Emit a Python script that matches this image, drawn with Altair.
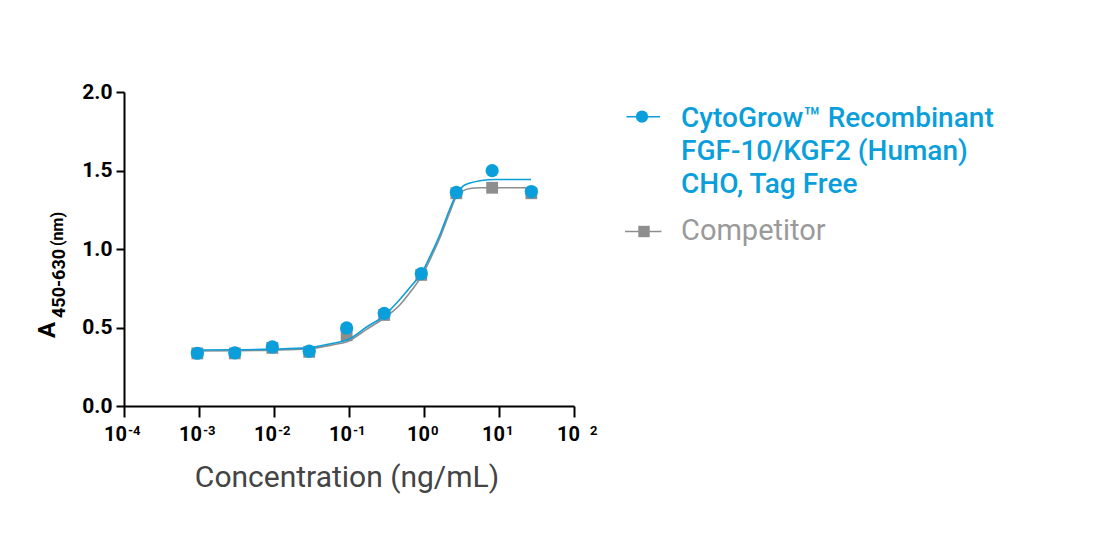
import altair as alt
import pandas as pd

# ---------------- data ----------------
conc = [0.00095, 0.003, 0.0095, 0.0295, 0.093, 0.295, 0.92, 2.7, 8.1, 27]
cyto_od = [0.336, 0.338, 0.376, 0.349, 0.497, 0.590, 0.843, 1.361, 1.499, 1.366]
comp_od = [0.335, 0.335, 0.370, 0.345, 0.450, 0.580, 0.835, 1.355, 1.390, 1.355]

cyto_fit_x = [0.00094, 0.00302, 0.0094, 0.0293, 0.0612, 0.094, 0.174, 0.284, 0.479,
              0.692, 0.94, 1.28, 1.69, 2.15, 2.75, 3.31, 4.10, 5.58, 8.85, 26.7]
cyto_fit_y = [0.357, 0.358, 0.362, 0.372, 0.400, 0.420, 0.505, 0.570, 0.680,
              0.770, 0.850, 0.980, 1.110, 1.240, 1.355, 1.400, 1.420, 1.435, 1.443, 1.443]
comp_fit_x = [0.00094, 0.00302, 0.0094, 0.0293, 0.0612, 0.094, 0.174, 0.284, 0.479,
              0.692, 0.94, 1.28, 1.69, 2.15, 2.75, 3.31, 4.10, 5.58, 8.85, 28.4]
comp_fit_y = [0.350, 0.352, 0.356, 0.365, 0.390, 0.410, 0.490, 0.555, 0.645,
              0.740, 0.830, 0.960, 1.090, 1.220, 1.340, 1.370, 1.385, 1.390, 1.390, 1.390]

x_ticks = [0.0001, 0.001, 0.01, 0.1, 1, 10, 100]
x_tick_base = ["10", "10", "10", "10", "10", "10", "10"]
x_tick_exp = ["-4", "-3", "-2", "-1", "0", "1", "2"]
y_ticks = [0, 0.5, 1.0, 1.5, 2.0]

series = ["CytoGrow™ Recombinant FGF-10/KGF2 (Human) CHO, Tag Free", "Competitor"]
legend_text = ["CytoGrow™ Recombinant\nFGF-10/KGF2 (Human)\nCHO, Tag Free", "Competitor"]

x_title = "Concentration (ng/mL)"
y_title_main = "A"
y_title_sub = "450-630"
y_title_unit = "(nm)"

BLUE = "#0A9FDB"
GRAY = "#8E8E8E"
GRAY_TXT = "#9A9A9A"
FONT = "Roboto"

# ---------------- tables ----------------
pts = pd.DataFrame({"conc": conc * 2,
                    "od": cyto_od + comp_od,
                    "series": [series[0]] * len(conc) + [series[1]] * len(conc)})
fit_c = pd.DataFrame({"conc": cyto_fit_x, "od": cyto_fit_y})
fit_g = pd.DataFrame({"conc": comp_fit_x, "od": comp_fit_y})
ticks = pd.DataFrame({"tick": x_ticks, "base": x_tick_base, "exp": x_tick_exp})

xs = alt.Scale(type="log", domain=[0.0001, 100], nice=False)
ys = alt.Scale(domain=[0, 2], nice=False, zero=False)

x_axis = alt.Axis(values=x_ticks, labels=False, title=None, grid=False, tickSize=11,
                  tickWidth=2, domainWidth=2, domainColor="black", tickColor="black")
y_axis = alt.Axis(values=y_ticks, format=".1f", title=None, grid=False, tickSize=8,
                  tickWidth=2, domainWidth=2, domainColor="black", tickColor="black",
                  labelFont=FONT, labelFontWeight="bold", labelFontSize=21,
                  labelColor="black", labelPadding=4)

X = alt.X("conc:Q", scale=xs, axis=x_axis)
Y = alt.Y("od:Q", scale=ys, axis=y_axis)

base = alt.Chart(pts)

line_g = alt.Chart(fit_g).mark_line(color=GRAY, strokeWidth=1.6, interpolate="monotone").encode(x=X, y=Y)
line_c = alt.Chart(fit_c).mark_line(color=BLUE, strokeWidth=1.6, interpolate="monotone").encode(x=X, y=Y)
sq = base.transform_filter(alt.datum.series == series[1]).mark_point(
    shape="square", filled=True, size=140, color=GRAY, opacity=1).encode(x=X, y=Y)
circ = base.transform_filter(alt.datum.series == series[0]).mark_point(
    shape="circle", filled=True, size=175, color=BLUE, opacity=1).encode(x=X, y=Y)

# x tick labels: 10 with superscript exponent
tk = alt.Chart(ticks)
XT = alt.X("tick:Q", scale=xs)

def tick_layer(flt, size, dx, y, field):
    align = "right" if field == "base" else "left"
    return tk.transform_filter(flt).mark_text(
        font=FONT, fontWeight="bold", fontSize=size, align=align, baseline="alphabetic",
        dx=dx, color="black"
    ).encode(x=XT, y=alt.value(y), text=f"{field}:N")

NEG = "datum.tick < 1"
MID = "datum.tick >= 1 && datum.tick < 100"
TOP = "datum.tick >= 100"
tick_layers = [
    tick_layer(NEG, 20, 3, 349, "base"), tick_layer(NEG, 13, 4, 343, "exp"),
    tick_layer(MID, 20, 6, 349, "base"), tick_layer(MID, 13, 7, 343, "exp"),
    tick_layer(TOP, 20, 6, 349, "base"), tick_layer(TOP, 13, 16, 343, "exp"),
]

one = pd.DataFrame({"k": [0]})

def label(txt, x, y, size, weight="normal", color="black", angle=0, align="left", **kw):
    return alt.Chart(pd.DataFrame({"t": [txt]})).mark_text(
        font=FONT, fontSize=size, fontWeight=weight, color=color, angle=angle,
        align=align, baseline="alphabetic", **kw
    ).encode(x=alt.value(x), y=alt.value(y), text="t:N")

xtitle = label(x_title, 223, 395, 30, color="#444444", align="center")
yt1 = label(y_title_main, -69, 246, 24, weight="bold", angle=270)
yt2 = label(y_title_sub, -59, 226, 18, weight="bold", angle=270)
yt3 = label(y_title_unit, -61, 154, 16, weight="bold", angle=270)

# legend
leg_rule_c = alt.Chart(one).mark_rule(color=BLUE, strokeWidth=1.6).encode(
    x=alt.value(502.5), x2=alt.value(536), y=alt.value(24.7))
leg_pt_c = alt.Chart(one).mark_point(shape="circle", filled=True, size=150, color=BLUE, opacity=1).encode(
    x=alt.value(518), y=alt.value(24.7))
leg_rule_g = alt.Chart(one).mark_rule(color=GRAY, strokeWidth=1.6).encode(
    x=alt.value(501), x2=alt.value(537.5), y=alt.value(139.5))
leg_pt_g = alt.Chart(one).mark_point(shape="square", filled=True, size=130, color=GRAY, opacity=1).encode(
    x=alt.value(520), y=alt.value(139.5))
leg_t_c = label(legend_text[0], 557, 34.7, 28, weight=500, color=BLUE, lineBreak="\n", lineHeight=33.3)
leg_t_g = label(legend_text[1], 557, 148, 29, color=GRAY_TXT)

chart = alt.layer(
    line_g, sq, line_c, circ,
    *tick_layers,
    xtitle, yt1, yt2, yt3,
    leg_rule_c, leg_pt_c, leg_rule_g, leg_pt_g, leg_t_c, leg_t_g,
).properties(
    width=450, height=314,
    autosize=alt.AutoSizeParams(type="none"),
    padding={"left": 116, "top": 84, "right": 460, "bottom": 110},
).configure_view(stroke=None)

chart.save("out.html", embed_options={"renderer": "svg", "actions": False})
